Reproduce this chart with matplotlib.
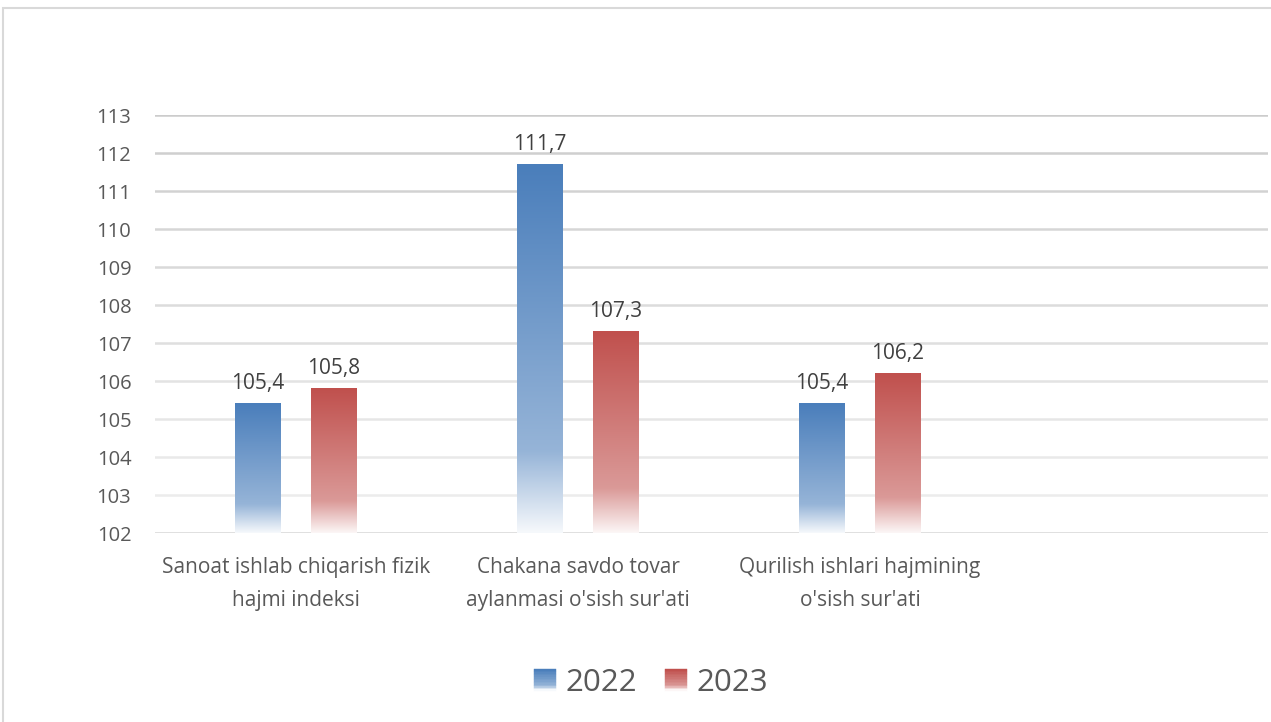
import numpy as np
import matplotlib.pyplot as plt
from matplotlib.patches import Rectangle
from matplotlib.legend_handler import HandlerBase
from matplotlib.colors import to_rgb

plt.rcParams['font.family'] = ['Open Sans', 'DejaVu Sans']

categories = ["Sanoat ishlab chiqarish fizik\nhajmi indeksi",
              "Chakana savdo tovar\naylanmasi o'sish sur'ati",
              "Qurilish ishlari hajmining\no'sish sur'ati"]
years = ["2022", "2023"]
values_2022 = [105.4, 111.7, 105.4]
values_2023 = [105.8, 107.3, 106.2]
yticks = list(range(102, 114))

colors = ['#4a7ebb', '#c0504d']


def gradient(color, n=200):
    # top: full colour, 78%: lighter, bottom: almost white
    c = np.array(to_rgb(color))
    w = np.ones(3)
    mid = c * 0.58 + w * 0.42
    end = c * 0.05 + w * 0.95
    out = np.empty((n, 3))
    for i, t in enumerate(np.linspace(0, 1, n)):
        if t < 0.78:
            f = t / 0.78
            out[i] = c * (1 - f) + mid * f
        else:
            f = (t - 0.78) / 0.22
            out[i] = mid * (1 - f) + end * f
    return out[:, None, :]


class GradHandler(HandlerBase):
    def __init__(self, color):
        super().__init__()
        self.color = color

    def create_artists(self, legend, orig_handle, xdescent, ydescent,
                       width, height, fontsize, trans):
        g = gradient(self.color, 14)[:, 0, :]
        n = len(g)
        arts = []
        for i, col in enumerate(g):
            y = -ydescent + height * (1 - (i + 1) / n)
            arts.append(Rectangle((-xdescent, y), width, height / n,
                                  facecolor=col, edgecolor=col, lw=0.3,
                                  transform=trans))
        return arts


fig = plt.figure(figsize=(12.71, 7.22), dpi=100)
ax = fig.add_axes([155 / 1271, 1 - 533 / 722, 1113 / 1271, (533 - 115) / 722])

ymin, ymax = yticks[0], yticks[-1]
x = np.arange(len(categories))
offset = 0.135
width = 0.163

# gridlines fading towards the bottom
for v in yticks:
    f = (ymax - v) / (ymax - ymin)
    g = 0.80 + 0.14 * f
    if v == ymin:
        ax.axhline(v, color='#d6d6d6', lw=1.8, zorder=1)
    else:
        ax.axhline(v, color=(g, g, g), lw=1.8, zorder=1)

handles = []
for k, (vals, col) in enumerate(zip([values_2022, values_2023], colors)):
    xs = x + (offset if k else -offset)
    bars = ax.bar(xs, np.array(vals) - ymin, width, bottom=ymin,
                  color='none', edgecolor='none', zorder=2, label=years[k])
    handles.append(bars.patches[0])
    grad = gradient(col)
    for xi, v in zip(xs, vals):
        ax.imshow(grad, extent=[xi - width / 2, xi + width / 2, ymin, v],
                  aspect='auto', zorder=3, interpolation='bilinear')
        ax.annotate(f"{v:.1f}".replace('.', ','), (xi, v), xytext=(0, 7),
                    textcoords='offset points', ha='center', va='bottom',
                    fontsize=15, color='#404040')

ax.set_xlim(-0.5, 3.447)
ax.set_ylim(ymin, ymax)
ax.set_yticks(yticks)
ax.set_xticks(x)
ax.set_xticklabels(categories, fontsize=15, color='#595959', linespacing=1.75)
ax.tick_params(axis='y', length=0, pad=17, labelsize=14.5, labelcolor='#595959')
ax.tick_params(axis='x', length=0, pad=17)
for s in ax.spines.values():
    s.set_visible(False)

fig.legend(handles, years, handler_map={h: GradHandler(c) for h, c in zip(handles, colors)},
           loc='center', bbox_to_anchor=(651 / 1271, 1 - 683 / 722), ncol=2,
           frameon=False, fontsize=22.5, labelcolor='#595959',
           handlelength=0.7, handleheight=0.7, handletextpad=0.3, columnspacing=0.9)

fig.add_artist(Rectangle((3 / 1271, -0.05), 1.2, 1.05 - 8 / 722,
                         transform=fig.transFigure, fill=False,
                         edgecolor='#d9d9d9', lw=1.5))

fig.savefig('out.png', dpi=100)
